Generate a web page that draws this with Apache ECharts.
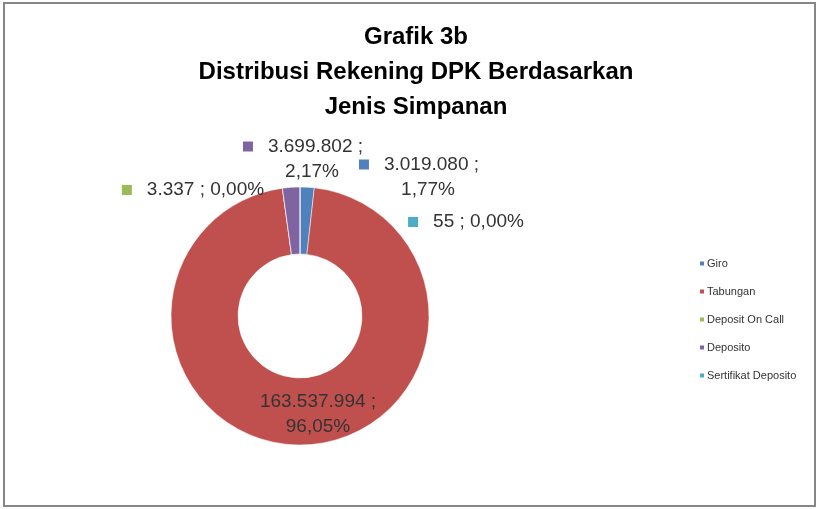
<!DOCTYPE html>
<html>
<head>
<meta charset="utf-8">
<script src="https://cdn.jsdelivr.net/npm/echarts@6/dist/echarts.min.js"></script>
<style>html,body{margin:0;padding:0;background:#fff;}#c{width:819px;height:509px;}</style>
</head>
<body>
<div id="c"></div>
<script>
// Data
var categories = ['Giro', 'Tabungan', 'Deposit On Call', 'Deposito', 'Sertifikat Deposito'];
var values = [3019080, 163537994, 3337, 3699802, 55];
var titleLines = ['Grafik 3b', 'Distribusi Rekening DPK Berdasarkan', 'Jenis Simpanan'];

// Styles
var colors = ['#4F81BD', '#C0504D', '#9BBB59', '#8064A2', '#4BACC6'];
// label anchor (center x, middle y), whether a marker square shows, whether label wraps
var labelPos = [
  {x: 419, y: 177, sq: true, wrap: true},
  {x: 318, y: 414, sq: false, wrap: true},
  {x: 193, y: 190, sq: true, wrap: false},
  {x: 303, y: 159, sq: true, wrap: true},
  {x: 466, y: 222, sq: true, wrap: false}
];

var total = values.reduce(function (a, b) { return a + b; }, 0);
function fmtNum(v) { return String(v).replace(/\B(?=(\d{3})+(?!\d))/g, '.'); }

var base = {fontSize: 19, color: '#333', fontFamily: 'Liberation Sans', lineHeight: 25};
var rich = {
  t: Object.assign({padding: [0, 0, 0, 15]}, base),
  t0: Object.assign({}, base),
  p: Object.assign({padding: [0, 0, 0, 18]}, base),
  p0: Object.assign({}, base)
};
colors.forEach(function (c, i) {
  rich['sq' + i] = {width: 10, height: 10, backgroundColor: c};
});

var chart = echarts.init(document.getElementById('c'), null, {renderer: 'canvas'});
chart.setOption({
  animation: false,
  backgroundColor: '#fff',
  title: {
    text: titleLines.join('\n'),
    left: 411,
    textAlign: 'center',
    top: 15,
    textStyle: {fontFamily: 'Liberation Sans', fontWeight: 'bold', fontSize: 24, lineHeight: 35, color: '#000'}
  },
  legend: {
    orient: 'vertical',
    left: 693,
    top: 253,
    itemWidth: 6,
    itemHeight: 6,
    itemGap: 17,
    icon: 'rect',
    data: categories,
    textStyle: {fontFamily: 'Liberation Sans', fontSize: 11, color: '#333', padding: [0, 0, 0, -3]}
  },
  graphic: [{
    type: 'rect',
    shape: {x: 4, y: 3, width: 811, height: 503},
    style: {fill: 'none', stroke: '#868686', lineWidth: 2},
    silent: true
  }],
  series: [{
    type: 'pie',
    center: [300, 316],
    radius: [62, 129],
    startAngle: 90,
    clockwise: true,
    avoidLabelOverlap: false,
    itemStyle: {borderColor: '#fff', borderWidth: 0.5},
    color: colors,
    labelLine: {show: false},
    label: {
      show: true,
      rich: rich,
      formatter: function (p) {
        var lp = labelPos[p.dataIndex];
        var pct = (p.value / total * 100).toFixed(2).replace('.', ',') + '%';
        var v = fmtNum(p.value);
        var s = '';
        if (lp.sq) s += '{sq' + p.dataIndex + '|}';
        if (lp.wrap) {
          s += '{' + (lp.sq ? 't' : 't0') + '|' + v + ' ;}\n{' + (lp.sq ? 'p' : 'p0') + '|' + pct + '}';
        } else {
          s += '{t|' + v + ' ; ' + pct + '}';
        }
        return s;
      }
    },
    labelLayout: function (params) {
      var lp = labelPos[params.dataIndex];
      return {x: lp.x, y: lp.y, align: 'center', verticalAlign: 'middle'};
    },
    data: categories.map(function (c, i) { return {name: c, value: values[i]}; })
  }]
});
</script>
</body>
</html>
